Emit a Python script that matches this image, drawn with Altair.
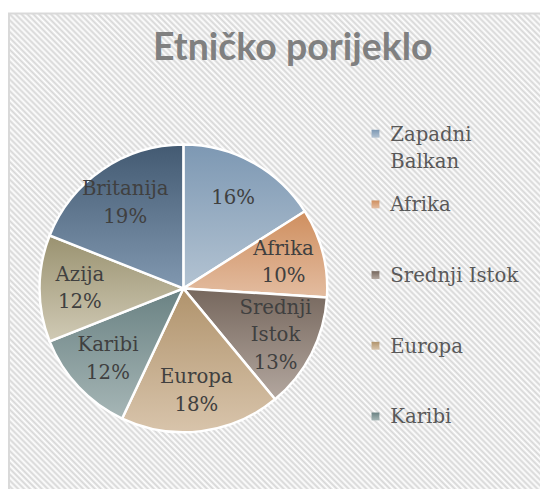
import altair as alt
import pandas as pd

title_text = "Etničko porijeklo"
categories = ["Zapadni Balkan", "Afrika", "Srednji Istok", "Europa", "Karibi", "Azija", "Britanija"]
values = [16, 10, 13, 18, 12, 12, 19]
label_names = ["", "Afrika", "Srednji\nIstok", "Europa", "Karibi", "Azija", "Britanija"]
legend_names = ["Zapadni\nBalkan", "Afrika", "Srednji Istok", "Europa", "Karibi"]
top_colors = ["#7d98b3", "#cf8f5f", "#76675d", "#b0936c", "#6a8283", "#9a9270", "#435a72"]
bottom_colors = ["#b3c3d2", "#e3bca0", "#b3a79f", "#d8c4ab", "#a6b6b6", "#d0cab5", "#8198b0"]

df = pd.DataFrame({"cat": categories, "value": values,
                   "order": list(range(len(categories))), "name": label_names})
leg_df = pd.DataFrame({"cat": categories[:len(legend_names)],
                       "li": list(range(len(legend_names))), "lname": legend_names})

SERIF = "DejaVu Serif"
LH = 28


def grad(top, bottom):
    return alt.LinearGradient(gradient="linear", x1=0, y1=0, x2=0, y2=1,
                              stops=[alt.GradientStop(offset=0, color=top),
                                     alt.GradientStop(offset=1, color=bottom)])


# striped background (decoration)
n_per = 187
stops = []
for k in range(n_per):
    stops.append(alt.GradientStop(offset=k / n_per, color="#ffffff"))
    stops.append(alt.GradientStop(offset=(k + 0.5) / n_per, color="#d6d6d6"))
stops.append(alt.GradientStop(offset=1, color="#ffffff"))
stripe = alt.LinearGradient(gradient="linear", x1=0, y1=1, x2=1, y2=0, stops=stops)

bg = alt.Chart(pd.DataFrame({"a": [0]})).mark_rect(
    fill=stripe, stroke="#d9d9d9", strokeWidth=2
).encode(x=alt.value(1), x2=alt.value(561), y=alt.value(2), y2=alt.value(562))

theta_scale = alt.Scale(domain=[0, 100], range=[0, 6.283185307179586])
CX, CY, R = 178, 281, 146

base = alt.Chart(df).transform_window(
    cum="sum(value)", sort=[alt.SortField("order")], frame=[None, 0]
).transform_calculate(
    start="datum.cum - datum.value",
    mid="datum.cum - datum.value / 2",
    label="(datum.name ? datum.name + '\\n' : '') + datum.value + '%'",
).transform_calculate(
    nlines="length(split(datum.label, '\\n'))"
)

arcs = []
for i, c in enumerate(categories):
    arcs.append(
        base.transform_filter(alt.datum.cat == c).mark_arc(
            fill=grad(top_colors[i], bottom_colors[i]), stroke="white", strokeWidth=2.5,
            outerRadius=R,
        ).encode(
            theta=alt.Theta("start:Q", scale=theta_scale, stack=None),
            theta2="cum:Q",
            x=alt.value(CX), y=alt.value(CY),
        )
    )

label_layers = []
for n in (1, 2, 3):
    label_layers.append(
        base.transform_filter(alt.datum.nlines == n).mark_text(
            font=SERIF, fontSize=20, color="#404040", lineBreak="\n",
            lineHeight=LH, align="center", baseline="middle", dy=-(n - 1) * LH / 2,
        ).encode(
            theta=alt.Theta("mid:Q", scale=theta_scale, stack=None),
            radius=alt.value(105),
            x=alt.value(CX), y=alt.value(CY),
            text="label:N",
        )
    )

yenc = alt.Y("li:Q", scale=alt.Scale(domain=[0, 4], range=[124, 411], zero=False, nice=False), axis=None)

squares = []
for i, c in enumerate(leg_df["cat"]):
    squares.append(
        alt.Chart(leg_df).transform_filter(alt.datum.cat == c).mark_square(
            size=64, fill=grad(top_colors[i], bottom_colors[i]), opacity=1, strokeWidth=0
        ).encode(x=alt.value(373), y=yenc)
    )

leg_text = alt.Chart(leg_df).mark_text(
    font=SERIF, fontSize=20, color="#595959", lineBreak="\n",
    lineHeight=LH, align="left", baseline="alphabetic", dy=7,
).encode(x=alt.value(388), y=yenc, text="lname:N")

title = alt.Chart(pd.DataFrame({"t": [title_text]})).mark_text(
    font="Lato", fontWeight="bold", fontSize=38, color="#808080",
    align="center", baseline="alphabetic",
).encode(x=alt.value(289), y=alt.value(49), text="t:N")

chart = alt.layer(bg, *arcs, *label_layers, *squares, leg_text, title).properties(
    width=540, height=481, padding=0,
    autosize=alt.AutoSizeParams(type="none"),
).configure_view(stroke=None)

chart.save("out.html", embed_options={"renderer": "svg", "actions": False})
